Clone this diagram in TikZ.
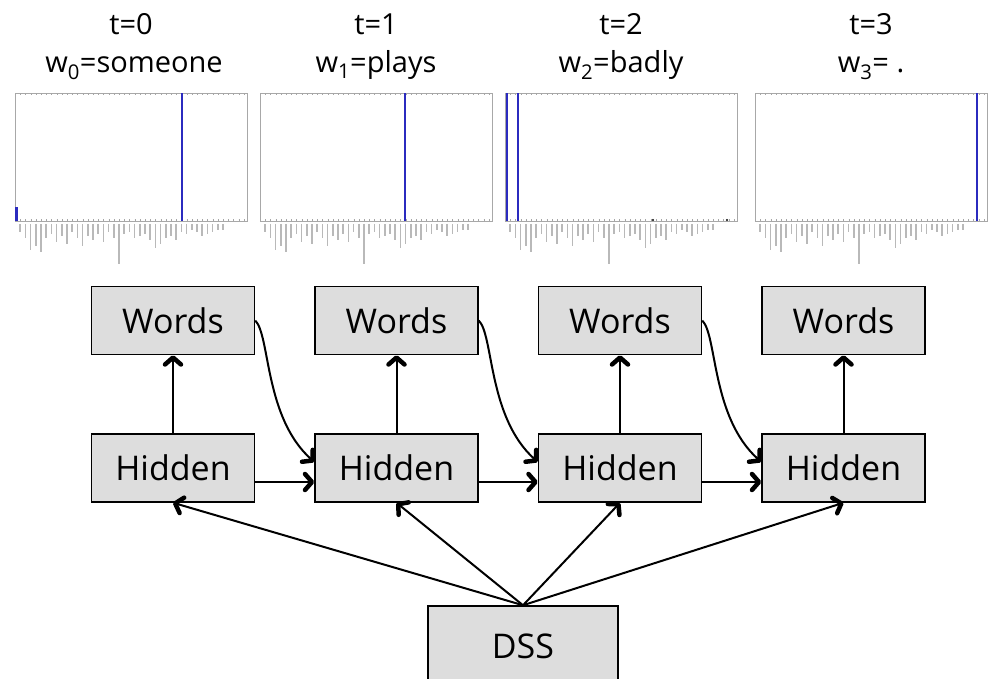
\documentclass[tikz,border=0pt]{standalone}
\usepackage{fontspec}
\setmainfont{Open Sans}
\usepackage{tikz}
\usetikzlibrary{positioning,arrows.meta}
\definecolor{BoxGray}{HTML}{DDDDDD}
\definecolor{BarBlue}{HTML}{2B2BBF}
\definecolor{FrameGray}{HTML}{A8A8A8}
\newcommand{\titlefont}{\fontsize{29}{35}\selectfont}

\begin{document}
\begin{tikzpicture}[x=1pt, y=1pt, node distance=78pt and 59pt,
    unit/.style={draw, line width=1.5pt, fill=BoxGray, minimum width=163pt, minimum height=68pt, inner sep=0pt, font=\fontsize{34}{40}\selectfont},
    link/.style={line width=2pt, -{Straight Barb[length=7pt,width=16pt,line width=4.5pt 0 1,round]}},
    bar/.style={BarBlue, line width=2.6pt},
    caption/.style={font=\titlefont, anchor=base}]
  \useasboundingbox (0,0) rectangle (990,678);

  % Charts: frame, ticks and word labels
  \foreach \cx in {15,260,505,755} {
    \draw[FrameGray, line width=0.8pt] (\cx,457) rectangle +(232,128);
    \draw[gray!70, line width=2pt, dash pattern=on 0.6pt off 4.6pt] (\cx,584) -- +(232,0);
    \draw[gray!70, line width=2pt, dash pattern=on 0.6pt off 4.6pt] (\cx,458) -- +(232,0);
    \foreach \len [count=\k] in {8,14,26,22,28,14,10,18,12,20,8,14,22,12,16,10,18,8,14,40,10,8,14,12,10,16,24,20,14,12,16,8,10,6,8,12,10,8,6,6}
      \draw[gray!55, line width=1.6pt] ({\cx+\k*5.2}, 454) -- +(0,-\len);
  }
  % Bars
  \draw[bar] (182,457) -- (182,585);
  \draw[bar] (16.5,457) -- (16.5,471);
  \draw[bar] (405,457) -- (405,585);
  \draw[bar] (507,457) -- (507,585);
  \draw[bar] (518,457) -- (518,585);
  \fill (653,458) circle (1.2pt);
  \fill (727,458) circle (1.2pt);
  \draw[bar] (977,457) -- (977,585);

  % Titles
  \node[caption] (t0) at (131,643) {t=0};
  \node[caption] (s0) at (134,605) {w\textsubscript{0}=someone};
  \node[caption] (t1) at (376,643) {t=1};
  \node[caption] (s1) at (376,605) {w\textsubscript{1}=plays};
  \node[caption] (t2) at (621,643) {t=2};
  \node[caption] (s2) at (621,605) {w\textsubscript{2}=badly};
  \node[caption] (t3) at (871,643) {t=3};
  \node[caption] (s3) at (871,605) {w\textsubscript{3}= .};

  % Nodes
  \node[unit] (h1) at (173,210) {Hidden};
  \node[unit, right=of h1] (h2) {Hidden};
  \node[unit, right=of h2] (h3) {Hidden};
  \node[unit, right=of h3] (h4) {Hidden};
  \foreach \i in {1,...,4}
    \node[unit, above=of h\i] (w\i) {Words};
  \node[unit, minimum width=190pt, minimum height=80pt] (dss) at (523,32) {DSS};

  % Arrows
  \foreach \i in {1,...,4} {
    \draw[link] (h\i) -- (w\i);
    \draw[link] (dss.north) -- (h\i.south);
  }
  \foreach \i/\j in {1/2,2/3,3/4} {
    \draw[link] ([yshift=-14pt]h\i.east) -- ([yshift=-14pt]h\j.west);
    \draw[link] (w\i.east) .. controls +(15,-15) and +(-50,45) .. ([yshift=6pt]h\j.west);
  }
\end{tikzpicture}
\end{document}
